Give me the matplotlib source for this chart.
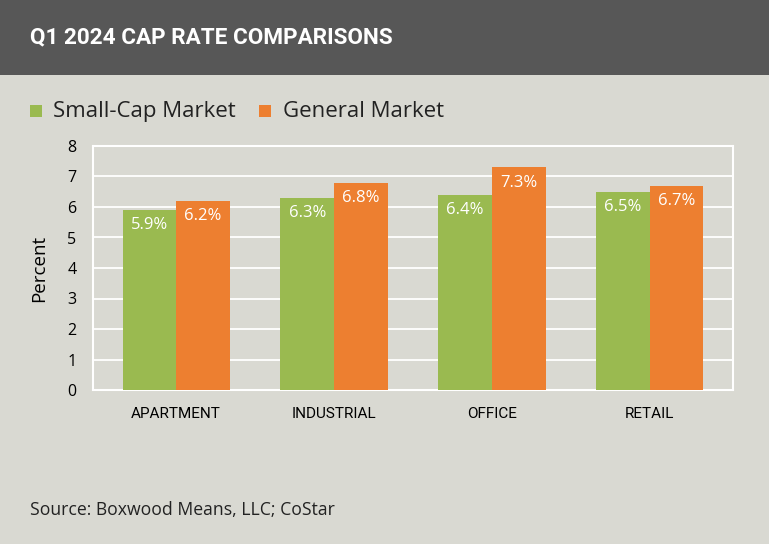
import matplotlib.pyplot as plt
import numpy as np
from matplotlib.patches import Rectangle

# data
categories = ['APARTMENT', 'INDUSTRIAL', 'OFFICE', 'RETAIL']
small_cap = [5.9, 6.3, 6.4, 6.5]
general = [6.2, 6.8, 7.3, 6.7]

BG = '#d9d9d2'
HEADER = '#575757'
GREEN = '#9aba50'
ORANGE = '#ed7f30'

plt.rcParams['font.family'] = ['Open Sans', 'DejaVu Sans']

fig = plt.figure(figsize=(7.69, 5.44), dpi=100, facecolor=BG)

# header band
fig.patches.append(Rectangle((0, 1 - 75 / 544), 1, 75 / 544, transform=fig.transFigure,
                             facecolor=HEADER, edgecolor='none', zorder=0))
fig.text(30 / 769, 1 - 37 / 544, 'Q1 2024 CAP RATE COMPARISONS', color='white',
         fontsize=16.2, fontweight='bold', va='center', ha='left', family='Roboto')

ax = fig.add_axes([93 / 769, 154 / 544, 640 / 769, 244 / 544])
ax.set_facecolor(BG)

x = np.arange(len(categories))
w = 0.34
b1 = ax.bar(x - w / 2, small_cap, w, color=GREEN, zorder=3)
b2 = ax.bar(x + w / 2, general, w, color=ORANGE, zorder=3)

for bars, vals in ((b1, small_cap), (b2, general)):
    for r, v in zip(bars, vals):
        ax.annotate(f'{v:.1f}%', (r.get_x() + r.get_width() / 2, v),
                    xytext=(0, -11), textcoords='offset points',
                    ha='center', va='center', color='white', fontsize=12, zorder=4)

ax.set_xlim(-0.527, 3.527)
ax.set_ylim(0, 8)
ax.set_yticks(range(0, 9))
ax.set_xticks(x)
ax.set_xticklabels(categories, fontsize=11, family='Roboto')
ax.tick_params(length=0)
ax.tick_params(axis='y', pad=12, labelsize=11.5)
ax.tick_params(axis='x', pad=12)
ax.grid(axis='y', color='white', linewidth=1.3, zorder=1)
for s in ax.spines.values():
    s.set_color('white')
    s.set_linewidth(1.5)
ax.set_ylabel('Percent', fontsize=13.5, labelpad=14)

# legend
fig.patches.append(Rectangle((30 / 769, 1 - 117 / 544), 12 / 769, 12 / 544,
                             transform=fig.transFigure, facecolor=GREEN, edgecolor='none'))
fig.text(53 / 769, 1 - 112 / 544, 'Small-Cap Market', fontsize=16, va='center', ha='left', color='#222222')
fig.patches.append(Rectangle((259 / 769, 1 - 117 / 544), 12 / 769, 12 / 544,
                             transform=fig.transFigure, facecolor=ORANGE, edgecolor='none'))
fig.text(283 / 769, 1 - 112 / 544, 'General Market', fontsize=16, va='center', ha='left', color='#222222')

fig.text(30 / 769, 1 - 510 / 544, 'Source: Boxwood Means, LLC; CoStar', fontsize=12.7,
         va='center', ha='left', color='#222222')

fig.savefig('out.png', dpi=100, facecolor=BG)
